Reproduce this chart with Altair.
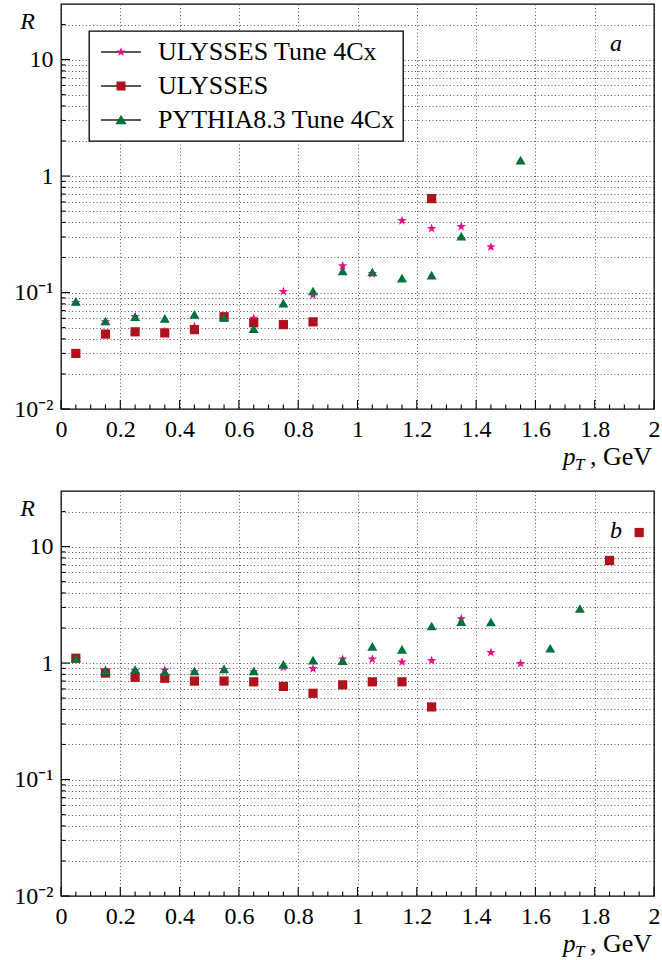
import altair as alt
import pandas as pd

FONT = "Liberation Serif"
SERIES = ["ULYSSES Tune 4Cx", "ULYSSES", "PYTHIA8.3 Tune 4Cx"]
COLORS = ["#ec0f8c", "#b0121b", "#00703c"]

# ---------------- panel a ----------------
a_star_pt = [0.05, 0.15, 0.25, 0.35, 0.45, 0.55, 0.65, 0.75, 0.85, 0.95, 1.05, 1.15, 1.25, 1.35, 1.45]
a_star_R = [0.082, 0.056, 0.062, 0.046, 0.051, 0.060, 0.060, 0.102, 0.095, 0.169, 0.145, 0.414, 0.354, 0.368, 0.246]
a_sq_pt = [0.05, 0.15, 0.25, 0.35, 0.45, 0.55, 0.65, 0.75, 0.85, 1.25]
a_sq_R = [0.030, 0.044, 0.046, 0.045, 0.048, 0.062, 0.055, 0.053, 0.056, 0.64]
a_tri_pt = [0.05, 0.15, 0.25, 0.35, 0.45, 0.55, 0.65, 0.75, 0.85, 0.95, 1.05, 1.15, 1.25, 1.35, 1.55]
a_tri_R = [0.084, 0.057, 0.062, 0.060, 0.065, 0.061, 0.049, 0.081, 0.103, 0.153, 0.150, 0.133, 0.141, 0.304, 1.37]

# ---------------- panel b ----------------
b_star_pt = [0.05, 0.15, 0.25, 0.35, 0.45, 0.55, 0.65, 0.75, 0.85, 0.95, 1.05, 1.15, 1.25, 1.35, 1.45, 1.55]
b_star_R = [1.08, 0.87, 0.86, 0.87, 0.84, 0.88, 0.84, 0.92, 0.895, 1.08, 1.08, 1.02, 1.05, 2.40, 1.23, 0.99]
b_sq_pt = [0.05, 0.15, 0.25, 0.35, 0.45, 0.55, 0.65, 0.75, 0.85, 0.95, 1.05, 1.15, 1.25, 1.85, 1.95]
b_sq_R = [1.10, 0.82, 0.755, 0.74, 0.70, 0.70, 0.69, 0.63, 0.55, 0.65, 0.69, 0.69, 0.42, 7.6, 13.2]
b_tri_pt = [0.05, 0.15, 0.25, 0.35, 0.45, 0.55, 0.65, 0.75, 0.85, 0.95, 1.05, 1.15, 1.25, 1.35, 1.45, 1.65, 1.75]
b_tri_R = [1.10, 0.86, 0.88, 0.84, 0.855, 0.89, 0.855, 0.975, 1.06, 1.05, 1.39, 1.31, 2.08, 2.27, 2.25, 1.34, 2.94]

X_MAJOR = [0, 0.2, 0.4, 0.6, 0.8, 1, 1.2, 1.4, 1.6, 1.8, 2]
X_MINOR = [0.05, 0.1, 0.15, 0.25, 0.3, 0.35, 0.45, 0.5, 0.55, 0.65, 0.7, 0.75, 0.85, 0.9, 0.95,
           1.05, 1.1, 1.15, 1.25, 1.3, 1.35, 1.45, 1.5, 1.55, 1.65, 1.7, 1.75, 1.85, 1.9, 1.95]
Y_MAJOR = [0.01, 0.1, 1, 10]
Y_MINOR = [0.02, 0.03, 0.04, 0.05, 0.06, 0.07, 0.08, 0.09,
           0.2, 0.3, 0.4, 0.5, 0.6, 0.7, 0.8, 0.9,
           2, 3, 4, 5, 6, 7, 8, 9, 20]
Y_GRID = sorted(Y_MAJOR + Y_MINOR)

W, H = 593, 405

STAR = "M0,-1L0.235,-0.324L0.951,-0.309L0.380,0.124L0.588,0.809L0,0.4L-0.588,0.809L-0.380,0.124L-0.951,-0.309L-0.235,-0.324Z"
LEG_LINE = "M-2,0L2,0"
LEG_STAR = ("M0,-0.48L0.115,-0.155L0.46,-0.15L0.185,0.06L0.28,0.39L0,0.195L-0.28,0.39L-0.185,0.06"
            "L-0.46,-0.15L-0.115,-0.155Z")
LEG_SQUARE = "M-0.45,-0.45L0.45,-0.45L0.45,0.45L-0.45,0.45Z"
LEG_TRI = "M0,-0.52L0.56,0.42L-0.56,0.42Z"

# marker-only legend uses its own keys so that it is not merged with the line legend
MARK_KEYS = [s + " " for s in SERIES]


def frame(pt, R, idx):
    return pd.DataFrame({"pT": pt, "R": R, "series": SERIES[idx], "series2": MARK_KEYS[idx]})


xs = alt.Scale(domain=[0, 2], nice=False, zero=False)
ys = alt.Scale(type="log", domain=[0.01, 30], nice=False)

label_expr = ("datum.value == 10 ? '10' : datum.value == 1 ? '1' : "
              "datum.value == 0.1 ? '10⁻¹' : datum.value == 0.01 ? '10⁻²' : ''")

xaxis = alt.Axis(values=X_MAJOR, format="~g", title=None, grid=True, ticks=False, domain=False,
                 labelFontSize=24, labelPadding=8, labelFont=FONT, labelColor="black",
                 labelFlush=False, labelOverlap=False, labelBound=False,
                 gridDash=[1, 2.5], gridColor="#444", gridWidth=0.9)
yaxis = alt.Axis(values=Y_GRID, labelExpr=label_expr, grid=True, ticks=False, domain=False,
                 labelFontSize=24, labelPadding=8, labelFont=FONT, labelColor="black",
                 labelFlush=False, labelOverlap=False, labelBound=False,
                 gridDash=[1, 2.5], gridColor="#444", gridWidth=0.9,
                 title="R", titleAngle=0, titleFont=FONT, titleFontStyle="italic",
                 titleFontWeight="normal", titleFontSize=24, titleColor="black",
                 titleX=-34, titleY=17, titleAlign="center", titleBaseline="middle")


def X(field):
    return alt.X(f"{field}:Q", scale=xs, axis=xaxis)


def Y(field):
    return alt.Y(f"{field}:Q", scale=ys, axis=yaxis)


LEG_LINES = alt.Legend(title=None, symbolType=LEG_LINE, symbolStrokeWidth=1.3, zindex=1,
                       strokeColor="black", fillColor="white")
LEG_MARKS = alt.Legend(title=None, labelOpacity=0, symbolStrokeWidth=0, zindex=2,
                       strokeColor="transparent", fillColor="transparent")


def panel(letter, star, sq, tri):
    df_star = frame(star[0], star[1], 0)
    df_sq = frame(sq[0], sq[1], 1)
    df_tri = frame(tri[0], tri[1], 2)
    df_all = pd.concat([df_star, df_sq, df_tri], ignore_index=True)

    ymaj = alt.Chart(pd.DataFrame({"v": Y_MAJOR})).mark_rule(color="black", strokeWidth=1.1).encode(
        y=Y("v"), x=alt.value(0), x2=alt.value(9))
    ymin = alt.Chart(pd.DataFrame({"v": Y_MINOR})).mark_rule(color="black", strokeWidth=1.1).encode(
        y=Y("v"), x=alt.value(0), x2=alt.value(4.5))
    xmaj = alt.Chart(pd.DataFrame({"v": X_MAJOR})).mark_rule(color="black", strokeWidth=1.1).encode(
        x=X("v"), y=alt.value(H), y2=alt.value(H - 9))
    xmin = alt.Chart(pd.DataFrame({"v": X_MINOR})).mark_rule(color="black", strokeWidth=1.1).encode(
        x=X("v"), y=alt.value(H), y2=alt.value(H - 4.5))

    stars = alt.Chart(df_star).mark_point(filled=True, opacity=1).encode(
        x=X("pT"), y=Y("R"), shape=alt.value(STAR), color=alt.value(COLORS[0]), size=alt.value(100))
    squares = alt.Chart(df_sq).mark_point(filled=True, opacity=1).encode(
        x=X("pT"), y=Y("R"), shape=alt.value("square"), color=alt.value(COLORS[1]), size=alt.value(85))
    tris = alt.Chart(df_tri).mark_point(filled=True, opacity=1).encode(
        x=X("pT"), y=Y("R"), shape=alt.value("triangle-up"), color=alt.value(COLORS[2]), size=alt.value(100))

    legend_lines = alt.Chart(df_all).transform_filter("false").mark_point(filled=False, opacity=1).encode(
        x=X("pT"), y=Y("R"),
        color=alt.Color("series:N", scale=alt.Scale(domain=SERIES, range=["#222", "#222", "#222"]),
                        legend=LEG_LINES),
    )
    legend_marks = alt.Chart(df_all).transform_filter("false").mark_point(filled=True, opacity=1).encode(
        x=X("pT"), y=Y("R"),
        shape=alt.Shape("series2:N", scale=alt.Scale(domain=MARK_KEYS, range=[LEG_STAR, LEG_SQUARE, LEG_TRI]),
                        legend=LEG_MARKS),
        fill=alt.Fill("series2:N", scale=alt.Scale(domain=MARK_KEYS, range=COLORS), legend=LEG_MARKS),
    )

    tl = alt.Chart(pd.DataFrame({"t": [letter]})).mark_text(
        font=FONT, fontSize=24, fontStyle="italic", color="black", align="center", baseline="middle"
    ).encode(text="t:N", x=alt.value(555), y=alt.value(40))

    p_txt = alt.Chart(pd.DataFrame({"t": ["p"]})).mark_text(
        font=FONT, fontSize=25, fontStyle="italic", color="black", align="left", baseline="alphabetic"
    ).encode(text="t:N", x=alt.value(502), y=alt.value(H + 56))
    t_txt = alt.Chart(pd.DataFrame({"t": ["T"]})).mark_text(
        font=FONT, fontSize=17, fontStyle="italic", color="black", align="left", baseline="alphabetic"
    ).encode(text="t:N", x=alt.value(514), y=alt.value(H + 61))
    gev_txt = alt.Chart(pd.DataFrame({"t": [", GeV"]})).mark_text(
        font=FONT, fontSize=26, color="black", align="right", baseline="alphabetic"
    ).encode(text="t:N", x=alt.value(W - 2), y=alt.value(H + 56))

    return alt.layer(ymaj, ymin, xmaj, xmin, stars, squares, tris, legend_lines, legend_marks,
                     tl, p_txt, t_txt, gev_txt).properties(width=W, height=H)


top = panel("a", (a_star_pt, a_star_R), (a_sq_pt, a_sq_R), (a_tri_pt, a_tri_R))
bottom = panel("b", (b_star_pt, b_star_R), (b_sq_pt, b_sq_R), (b_tri_pt, b_tri_R))

chart = alt.vconcat(top, bottom, spacing=16).properties(
    padding={"left": 13, "top": 3, "right": 0, "bottom": 0}
).configure_view(stroke="black", strokeWidth=1.3).configure_legend(
    orient="none", legendX=28, legendY=27, padding=8,
    labelFont=FONT, labelFontSize=26, labelColor="black", labelLimit=400,
    symbolSize=400, symbolOffset=11, labelOffset=24, rowPadding=8,
    cornerRadius=0, strokeWidth=1.3
)

chart.save("out.html", embed_options={"renderer": "svg", "actions": False})
